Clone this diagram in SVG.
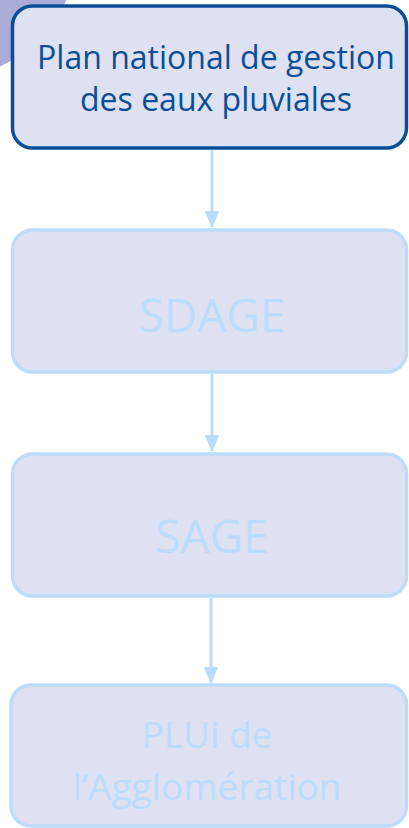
<svg xmlns="http://www.w3.org/2000/svg" width="409" height="828" viewBox="0 0 409 828">
<style>
.box{fill:#dee1f2;stroke:#bcdcfc;stroke-width:3.5}
.main{stroke:#0b4e98;stroke-width:3.5}
.t{font-family:"Open Sans","Noto Sans","Liberation Sans",sans-serif;text-anchor:middle}
.lt{fill:#bcdcfc}
.dk{fill:#0b4e98}
.conn{stroke:#bcdcfc;stroke-width:3;fill:none}
</style>
<defs>
<marker id="arr" markerWidth="6" markerHeight="5" refX="5.5" refY="2.5" orient="auto" markerUnits="strokeWidth">
<path d="M0,0 L6,2.5 L0,5 Z" fill="#bcdcfc"/>
</marker>
</defs>
<circle cx="-60" cy="-60" r="140" fill="#a9acd6"/>
<g id="connectors">
<line class="conn" x1="212" y1="150" x2="212" y2="227" marker-end="url(#arr)"/>
<line class="conn" x1="212" y1="374" x2="212" y2="451" marker-end="url(#arr)"/>
<line class="conn" x1="211" y1="598" x2="211" y2="683" marker-end="url(#arr)"/>
</g>
<g id="node-plan">
<rect class="box main" x="12.5" y="6" width="394" height="142" rx="20"/>
<text class="t dk" x="216" y="69" font-size="32">Plan national de gestion</text>
<text class="t dk" x="216" y="111" font-size="32">des eaux pluviales</text>
</g>
<g id="node-sdage">
<rect class="box" x="12.5" y="230" width="394" height="142" rx="20"/>
<text class="t lt" x="212" y="332" font-size="46">SDAGE</text>
</g>
<g id="node-sage">
<rect class="box" x="12.5" y="454" width="394" height="142" rx="20"/>
<text class="t lt" x="212" y="553" font-size="46">SAGE</text>
</g>
<g id="node-plui">
<rect class="box" x="11" y="685" width="395.5" height="141" rx="20"/>
<text class="t lt" x="207" y="748" font-size="37">PLUi de</text>
<text class="t lt" x="207" y="800" font-size="37">l’Agglomération</text>
</g>
</svg>
